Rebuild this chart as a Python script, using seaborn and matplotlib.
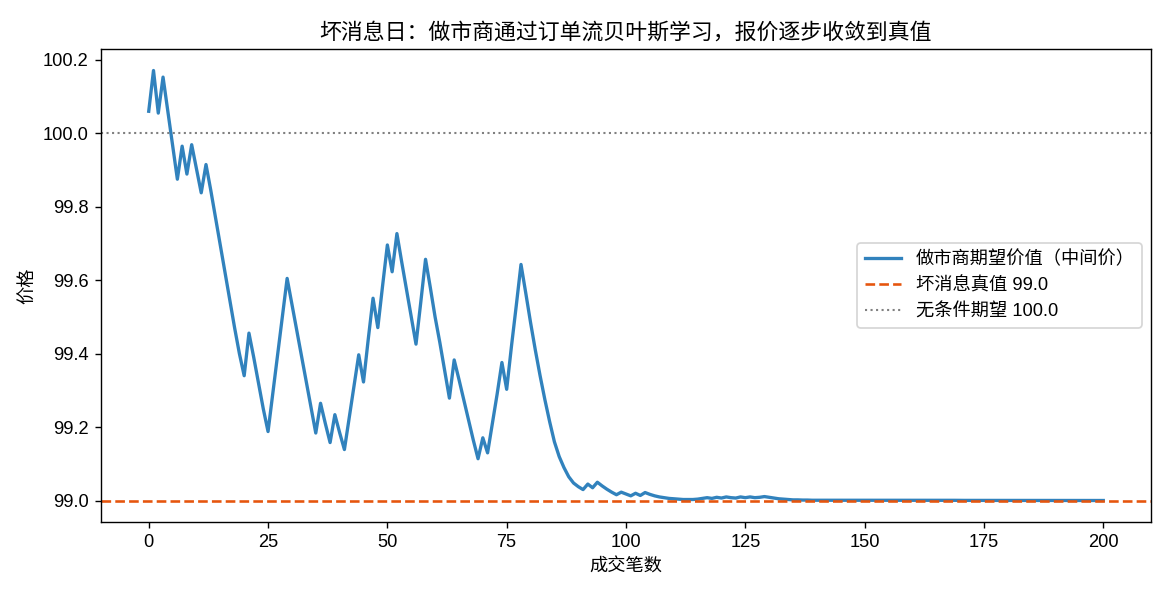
import numpy as np
import pandas as pd
import matplotlib
matplotlib.use("Agg")
import matplotlib.pyplot as plt
import seaborn as sns

plt.rcParams['font.family'] = ['Liberation Sans', 'Noto Sans CJK SC', 'DejaVu Sans']
plt.rcParams['axes.unicode_minus'] = False

# ---- data ----
title = "坏消息日：做市商通过订单流贝叶斯学习，报价逐步收敛到真值"
xlabel = "成交笔数"
ylabel = "价格"
label_mid = "做市商期望价值（中间价）"
label_true = "坏消息真值 99.0"
label_prior = "无条件期望 100.0"
true_value = 99.0
prior_value = 100.0

mid_0_49 = [
    100.060, 100.171, 100.055, 100.153, 100.060, 99.967, 99.875, 99.965, 99.889, 99.969,
    99.903, 99.838, 99.915, 99.845, 99.770, 99.695, 99.620, 99.545, 99.470, 99.400,
    99.340, 99.456, 99.390, 99.320, 99.250, 99.188, 99.292, 99.396, 99.500, 99.605,
    99.535, 99.465, 99.395, 99.325, 99.255, 99.184, 99.265, 99.210, 99.158, 99.234,
    99.185, 99.139, 99.225, 99.310, 99.397, 99.323, 99.440, 99.551, 99.471, 99.585,
]
mid_50_99 = [
    99.696, 99.623, 99.727, 99.650, 99.575, 99.500, 99.426, 99.540, 99.657, 99.580,
    99.500, 99.430, 99.355, 99.279, 99.383, 99.330, 99.275, 99.220, 99.165, 99.114,
    99.171, 99.130, 99.210, 99.290, 99.376, 99.303, 99.420, 99.530, 99.643, 99.565,
    99.485, 99.410, 99.340, 99.275, 99.215, 99.160, 99.120, 99.090, 99.065, 99.048,
    99.038, 99.030, 99.045, 99.035, 99.050, 99.040, 99.031, 99.023, 99.016, 99.023,
]
mid_100_149 = [
    99.018, 99.013, 99.020, 99.014, 99.022, 99.017, 99.013, 99.010, 99.008, 99.006,
    99.005, 99.004, 99.003, 99.003, 99.003, 99.004, 99.006, 99.008, 99.006, 99.009,
    99.007, 99.010, 99.008, 99.007, 99.010, 99.008, 99.010, 99.008, 99.009, 99.011,
    99.009, 99.007, 99.005, 99.004, 99.003, 99.002, 99.002, 99.0015, 99.0015, 99.001,
    99.001, 99.001, 99.001, 99.001, 99.001, 99.001, 99.001, 99.001, 99.001, 99.001,
]
mid_150_200 = [
    99.001, 99.001, 99.001, 99.001, 99.001, 99.001, 99.001, 99.001, 99.001, 99.001,
    99.0008, 99.0008, 99.0008, 99.0008, 99.0008, 99.0008, 99.0008, 99.0008, 99.0008, 99.0008,
    99.0006, 99.0006, 99.0006, 99.0006, 99.0006, 99.0006, 99.0006, 99.0006, 99.0006, 99.0006,
    99.0004, 99.0004, 99.0004, 99.0004, 99.0004, 99.0004, 99.0004, 99.0004, 99.0004, 99.0004,
    99.0003, 99.0003, 99.0003, 99.0003, 99.0003, 99.0003, 99.0003, 99.0003, 99.0003, 99.0003,
    99.0003,
]

mid_price = mid_0_49 + mid_50_99 + mid_100_149 + mid_150_200
trades = np.arange(len(mid_price))
df = pd.DataFrame({"trade": trades, "mid": mid_price})

# ---- plot ----
fig = plt.figure(figsize=(1170 / 125, 598 / 125), dpi=125)
ax = fig.add_axes([101 / 1170, 1 - 522 / 598, (1151 - 101) / 1170, (522 - 49) / 598])

sns.lineplot(data=df, x="trade", y="mid", ax=ax, color="#3182bd", linewidth=1.9,
             label=label_mid)
ax.axhline(true_value, color="#e6550d", linestyle="--", linewidth=1.5, label=label_true)
ax.axhline(prior_value, color="#808080", linestyle=":", linewidth=1.2, label=label_prior)

ax.set_title(title, fontsize=12.6)
ax.set_xlabel(xlabel, fontsize=10.5)
ax.set_ylabel(ylabel, fontsize=10.5)
ax.tick_params(labelsize=10.5)
ax.legend(loc="center right", fontsize=10.5)

fig.savefig("out.png", dpi=125)
